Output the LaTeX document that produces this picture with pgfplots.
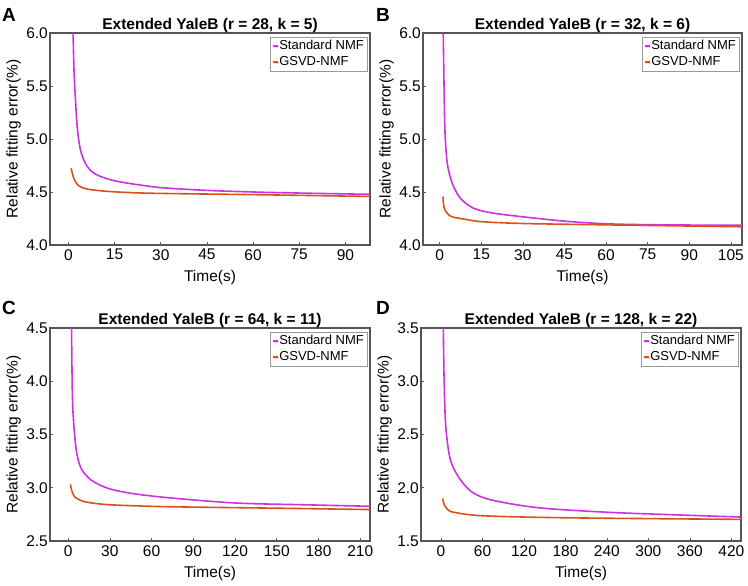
\documentclass[border=0pt]{standalone}
\usepackage{pgfplots}
\pgfplotsset{compat=1.18}
\usepackage{fontspec}
\setmainfont{Liberation Sans}
\usetikzlibrary{shadows}
\definecolor{cstd}{RGB}{204,51,224}
\definecolor{cgsvd}{RGB}{217,82,25}
\definecolor{framec}{RGB}{85,85,85}
\pgfplotsset{
 panel/.style={
  scale only axis, anchor=south west,
  axis line style={draw=framec, line width=1.3pt},
  tick style={draw=framec, line width=0.6pt},
  major tick length=3pt,
  xtick pos=bottom, ytick pos=left, tick align=inside,
  /pgf/number format/assume math mode=true,
  ticklabel style={font=\fontsize{15.5}{18}\selectfont},
  label style={font=\fontsize{15.5}{18}\selectfont},
  title style={font=\bfseries\fontsize{15.5}{18}\selectfont, inner sep=2pt, yshift=-7.5pt},
  yticklabel style={/pgf/number format/fixed, /pgf/number format/fixed zerofill, /pgf/number format/precision=1, inner sep=2pt},
  xticklabel style={inner sep=4pt},
  xlabel={Time(s)}, ylabel={Relative fitting error(\%)},
  xlabel style={at={(axis description cs:0.5,-0.151)}, anchor=center},
  ylabel style={at={(axis description cs:-0.114,0.5)}, anchor=center},
  legend style={at={(1,1)}, anchor=north east, xshift=-3pt, yshift=-4pt, draw=gray!80,
     font=\fontsize{13}{15}\selectfont, inner sep=2pt, row sep=2pt,
     nodes={inner sep=1pt, text height=9.5pt, text depth=2.5pt},
     drop shadow={shadow xshift=1pt, shadow yshift=-1pt, opacity=0.25}},
  legend cell align=left,
  legend image code/.code={\draw[#1, line width=1.5pt] (0pt,0pt) -- (5pt,0pt);},
  std/.style={color=cstd, line width=1.6pt, smooth, tension=0.5},
  gsvd/.style={color=cgsvd, line width=1.6pt, smooth, tension=0.5},
 }
}
\begin{document}
\begin{tikzpicture}
\useasboundingbox (0,0) rectangle (748pt,586pt);
% Panel A
\begin{axis}[panel, at={(50pt,341pt)}, width=320pt, height=212pt,
  xmin=-6, xmax=98, ymin=4.0, ymax=6.0,
  xtick={0,15,...,90}, ytick={4.0,4.5,...,6.0},
  title={Extended YaleB (r = 28, k = 5)}]
\addplot[std] coordinates {(1.5,6.0) (1.8,5.65) (2.28,5.37) (2.6,5.21) (3.05,5.054) (3.9,4.896) (5.5,4.77) (7.7,4.69) (11,4.64) (16.4,4.597) (27.2,4.55) (33,4.535) (45,4.515) (60,4.50) (75,4.49) (98,4.478)};
\addlegendentry{Standard NMF}
\addplot[gsvd] coordinates {(0.88,4.724) (1.75,4.629) (3.4,4.557) (6.6,4.525) (14.2,4.503) (27.2,4.488) (60,4.475) (98,4.458)};
\addlegendentry{GSVD-NMF}
\end{axis}
% Panel B
\begin{axis}[panel, at={(423pt,341pt)}, width=319pt, height=212pt,
  xmin=-6, xmax=109, ymin=4.0, ymax=6.0,
  xtick={0,15,...,105}, ytick={4.0,4.5,...,6.0},
  title={Extended YaleB (r = 32, k = 6)}]
\addplot[std] coordinates {(1.3,6.0) (1.55,5.56) (1.9,5.085) (2.75,4.771) (4.54,4.582) (7.5,4.44) (12.3,4.346) (19.4,4.30) (30,4.266) (45,4.225) (60,4.2) (80,4.19) (109,4.186)};
\addlegendentry{Standard NMF}
\addplot[gsvd] coordinates {(1.2,4.456) (1.4,4.385) (1.9,4.33) (3.3,4.283) (5.1,4.261) (8.7,4.245) (15,4.22) (30,4.203) (60,4.19) (109,4.172)};
\addlegendentry{GSVD-NMF}
\end{axis}
% Panel C
\begin{axis}[panel, at={(50pt,45pt)}, width=320pt, height=213pt,
  xmin=-13, xmax=217, ymin=2.5, ymax=4.5,
  xtick={0,30,...,210}, ytick={2.5,3.0,...,4.5},
  title={Extended YaleB (r = 64, k = 11)}]
\addplot[std] coordinates {(2.5,4.5) (2.7,4.215) (3.4,3.746) (5.7,3.37) (9.3,3.183) (16.5,3.073) (28.5,2.995) (45.2,2.948) (71.5,2.907) (120,2.857) (170,2.84) (217,2.826)};
\addlegendentry{Standard NMF}
\addplot[gsvd] coordinates {(1.7,3.032) (2.65,2.972) (4.6,2.916) (8.2,2.886) (11.8,2.869) (20,2.852) (33,2.838) (71.5,2.822) (150,2.808) (217,2.795)};
\addlegendentry{GSVD-NMF}
\end{axis}
% Panel D
\begin{axis}[panel, at={(421pt,45pt)}, width=320pt, height=213pt,
  xmin=-29, xmax=434, ymin=1.5, ymax=3.5,
  xtick={0,60,...,420}, ytick={1.5,2.0,...,3.5},
  title={Extended YaleB (r = 128, k = 22)}]
\addplot[std] coordinates {(3.3,3.5) (4.3,3.059) (6.7,2.589) (13,2.276) (25,2.104) (44,1.963) (73,1.885) (140,1.813) (240,1.77) (360,1.741) (434,1.725)};
\addlegendentry{Standard NMF}
\addplot[gsvd] coordinates {(2.3,1.90) (4.8,1.838) (10.5,1.79) (20,1.768) (60,1.737) (180,1.718) (434,1.703)};
\addlegendentry{GSVD-NMF}
\end{axis}
\node[anchor=base west, inner sep=0pt, font=\bfseries\fontsize{19}{22}\selectfont] at (2pt,564pt) {A};
\node[anchor=base west, inner sep=0pt, font=\bfseries\fontsize{19}{22}\selectfont] at (376pt,564pt) {B};
\node[anchor=base west, inner sep=0pt, font=\bfseries\fontsize{19}{22}\selectfont] at (2pt,271pt) {C};
\node[anchor=base west, inner sep=0pt, font=\bfseries\fontsize{19}{22}\selectfont] at (376pt,271pt) {D};
\end{tikzpicture}
\end{document}
